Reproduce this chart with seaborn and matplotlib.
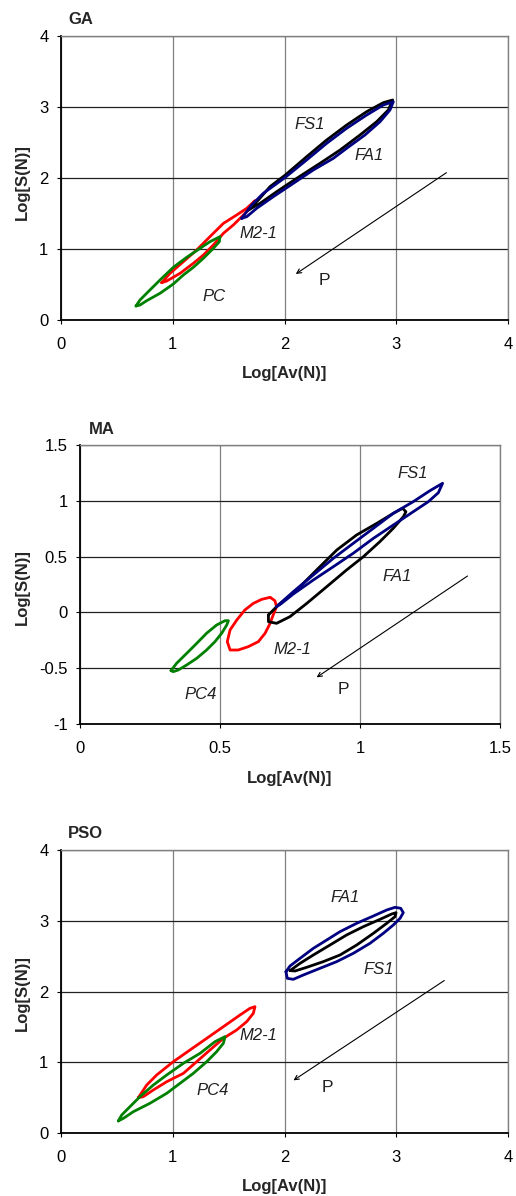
import matplotlib
matplotlib.use("Agg")
import matplotlib.pyplot as plt
import seaborn as sns
import pandas as pd

# ---------------- GA ----------------
ga_black_x = [1.676, 1.766, 1.870, 2.007, 2.198, 2.377, 2.556, 2.735, 2.884, 2.968,
              2.929, 2.825, 2.676, 2.497, 2.318, 2.109, 1.930, 1.781]
ga_black_y = [1.549, 1.690, 1.878, 2.042, 2.300, 2.535, 2.746, 2.934, 3.061, 3.099,
              2.958, 2.793, 2.606, 2.394, 2.207, 1.995, 1.807, 1.643]
ga_blue_x = [1.617, 1.706, 1.810, 2.007, 2.198, 2.377, 2.556, 2.735, 2.884, 2.974,
             2.944, 2.855, 2.720, 2.556, 2.437, 2.258, 2.079, 1.900, 1.751, 1.662]
ga_blue_y = [1.432, 1.620, 1.784, 2.009, 2.254, 2.488, 2.700, 2.887, 3.028, 3.075,
             2.958, 2.793, 2.606, 2.418, 2.277, 2.113, 1.925, 1.737, 1.573, 1.455]
ga_red_x = [0.901, 0.975, 1.095, 1.214, 1.333, 1.453, 1.572, 1.662, 1.736,
            1.706, 1.617, 1.542, 1.453, 1.363, 1.274, 1.184, 1.065, 0.946]
ga_red_y = [0.526, 0.657, 0.822, 0.986, 1.174, 1.361, 1.479, 1.573, 1.681,
            1.596, 1.455, 1.338, 1.221, 1.056, 0.915, 0.798, 0.657, 0.549]
ga_green_x = [0.671, 0.707, 0.796, 0.886, 1.005, 1.125, 1.244, 1.333, 1.423,
              1.417, 1.363, 1.274, 1.184, 1.095, 1.005, 0.886, 0.767, 0.707]
ga_green_y = [0.197, 0.282, 0.423, 0.563, 0.742, 0.883, 1.009, 1.103, 1.174,
              1.103, 1.009, 0.869, 0.742, 0.634, 0.507, 0.376, 0.272, 0.211]

# ---------------- MA ----------------
ma_black_x = [0.673, 0.708, 0.774, 0.845, 0.917, 0.988, 1.060, 1.119, 1.152, 1.164,
              1.155, 1.119, 1.071, 1.012, 0.952, 0.881, 0.810, 0.750, 0.702, 0.673]
ma_black_y = [-0.023, 0.066, 0.201, 0.380, 0.559, 0.694, 0.798, 0.888, 0.933, 0.902,
              0.858, 0.754, 0.634, 0.499, 0.380, 0.230, 0.081, -0.038, -0.098, -0.083]
ma_blue_x = [0.702, 0.762, 0.833, 0.905, 0.976, 1.048, 1.119, 1.190, 1.250, 1.295,
             1.280, 1.244, 1.190, 1.119, 1.048, 0.976, 0.905, 0.833, 0.762, 0.720]
ma_blue_y = [0.051, 0.186, 0.335, 0.485, 0.619, 0.754, 0.888, 0.992, 1.091, 1.157,
             1.073, 0.992, 0.902, 0.783, 0.664, 0.530, 0.410, 0.290, 0.165, 0.081]
ma_red_x = [0.679, 0.696, 0.702, 0.690, 0.679, 0.661, 0.637, 0.601, 0.565, 0.536,
            0.526, 0.536, 0.560, 0.589, 0.619, 0.649]
ma_red_y = [0.135, 0.105, 0.051, -0.023, -0.098, -0.187, -0.262, -0.307, -0.337, -0.337,
            -0.262, -0.157, -0.068, 0.022, 0.081, 0.117]
ma_green_x = [0.325, 0.345, 0.381, 0.417, 0.452, 0.488, 0.518, 0.530,
              0.524, 0.506, 0.482, 0.452, 0.417, 0.381, 0.351, 0.333]
ma_green_y = [-0.522, -0.456, -0.367, -0.277, -0.187, -0.113, -0.074, -0.074,
              -0.113, -0.187, -0.262, -0.337, -0.411, -0.471, -0.516, -0.531]

# ---------------- PSO ----------------
pso_blue_x = [2.013, 2.049, 2.139, 2.258, 2.378, 2.497, 2.646, 2.795, 2.915, 2.989, 3.040, 3.063,
              3.034, 2.974, 2.884, 2.765, 2.616, 2.467, 2.318, 2.168, 2.079, 2.025]
pso_blue_y = [2.280, 2.360, 2.469, 2.610, 2.728, 2.846, 2.964, 3.067, 3.152, 3.190, 3.176, 3.114,
              3.034, 2.940, 2.822, 2.681, 2.540, 2.422, 2.328, 2.233, 2.172, 2.186]
pso_black_x = [2.049, 2.139, 2.258, 2.407, 2.556, 2.705, 2.855, 2.959, 2.998,
               2.989, 2.915, 2.795, 2.646, 2.497, 2.347, 2.199, 2.094]
pso_black_y = [2.295, 2.398, 2.516, 2.657, 2.799, 2.916, 3.020, 3.095, 3.114,
               3.058, 2.964, 2.822, 2.657, 2.516, 2.422, 2.342, 2.290]
pso_red_x = [0.692, 0.767, 0.856, 1.005, 1.154, 1.304, 1.453, 1.602, 1.691, 1.736,
             1.721, 1.662, 1.572, 1.453, 1.333, 1.214, 1.095, 0.946, 0.826, 0.737]
pso_red_y = [0.499, 0.678, 0.820, 1.008, 1.173, 1.338, 1.503, 1.668, 1.762, 1.786,
             1.692, 1.574, 1.456, 1.338, 1.173, 1.008, 0.843, 0.725, 0.608, 0.514]
pso_green_x = [0.513, 0.543, 0.617, 0.707, 0.826, 0.946, 1.095, 1.244, 1.378, 1.468,
               1.453, 1.393, 1.304, 1.184, 1.065, 0.946, 0.796, 0.647, 0.558]
pso_green_y = [0.170, 0.254, 0.372, 0.514, 0.678, 0.820, 0.985, 1.126, 1.291, 1.362,
               1.268, 1.150, 1.008, 0.843, 0.702, 0.561, 0.420, 0.301, 0.207]

# ticks
ga_xticks = [0, 1, 2, 3, 4]
ga_yticks = [0, 1, 2, 3, 4]
ga_xticklabels = ["0", "1", "2", "3", "4"]
ga_yticklabels = ["0", "1", "2", "3", "4"]
ma_xticks = [0, 0.5, 1, 1.5]
ma_yticks = [-1, -0.5, 0, 0.5, 1, 1.5]
ma_xticklabels = ["0", "0.5", "1", "1.5"]
ma_yticklabels = ["-1", "-0.5", "0", "0.5", "1", "1.5"]

# annotation labels
ga_labels = [("FS1", 2.23, 2.75), ("FA1", 2.76, 2.32), ("M2-1", 1.77, 1.22), ("PC", 1.37, 0.33)]
ma_labels = [("FS1", 1.19, 1.246), ("FA1", 1.131, 0.326), ("M2-1", 0.759, -0.331), ("PC4", 0.431, -0.74)]
pso_labels = [("FA1", 2.54, 3.33), ("FS1", 2.84, 2.31), ("M2-1", 1.77, 1.38), ("PC4", 1.36, 0.60)]
ga_arrow = (3.449, 2.075, 2.101, 0.648)
ma_arrow = (1.384, 0.326, 0.845, -0.582)
pso_arrow = (3.43, 2.155, 2.08, 0.744)
ga_p = (2.36, 0.56)
ma_p = (0.942, -0.695)
pso_p = (2.38, 0.645)

sns.set_theme(style="white")
plt.rcParams['font.family'] = ['Liberation Sans', 'DejaVu Sans']

fig = plt.figure(figsize=(5.16, 11.96), dpi=100)

GREEN = "#008000"
RED = "#FF0000"
BLUE = "#000080"
BLACK = "#000000"

panels = [
    dict(title="GA", rect=[61/516, 1-320/1196, 447/516, 284/1196],
         loops=[(ga_red_x, ga_red_y, RED), (ga_green_x, ga_green_y, GREEN),
                (ga_black_x, ga_black_y, BLACK), (ga_blue_x, ga_blue_y, BLUE)],
         xlim=(0, 4), ylim=(0, 4), xt=ga_xticks, yt=ga_yticks,
         xtl=ga_xticklabels, ytl=ga_yticklabels, labels=ga_labels,
         arrow=ga_arrow, p=ga_p, title_px=(68, 20), xlab_py=373, ylab_py=182),
    dict(title="MA", rect=[80/516, 1-724/1196, 420/516, 279/1196],
         loops=[(ma_red_x, ma_red_y, RED), (ma_green_x, ma_green_y, GREEN),
                (ma_black_x, ma_black_y, BLACK), (ma_blue_x, ma_blue_y, BLUE)],
         xlim=(0, 1.5), ylim=(-1, 1.5), xt=ma_xticks, yt=ma_yticks,
         xtl=ma_xticklabels, ytl=ma_yticklabels, labels=ma_labels,
         arrow=ma_arrow, p=ma_p, title_px=(89, 429), xlab_py=778, ylab_py=587),
    dict(title="PSO", rect=[61/516, 1-1133/1196, 447/516, 283/1196],
         loops=[(pso_red_x, pso_red_y, RED), (pso_green_x, pso_green_y, GREEN),
                (pso_black_x, pso_black_y, BLACK), (pso_blue_x, pso_blue_y, BLUE)],
         xlim=(0, 4), ylim=(0, 4), xt=ga_xticks, yt=ga_yticks,
         xtl=ga_xticklabels, ytl=ga_yticklabels, labels=pso_labels,
         arrow=pso_arrow, p=pso_p, title_px=(68, 834), xlab_py=1187, ylab_py=993),
]

W, H = 516, 1196
for pn in panels:
    ax = fig.add_axes(pn["rect"])
    ax.set_facecolor("white")
    for i, (xs, ys, col) in enumerate(pn["loops"]):
        df = pd.DataFrame({"x": list(xs) + [xs[0]], "y": list(ys) + [ys[0]]})
        sns.lineplot(data=df, x="x", y="y", sort=False, estimator=None,
                     color=col, lw=2.0, ax=ax, zorder=3 + i)
    ax.set_xlim(*pn["xlim"])
    ax.set_ylim(*pn["ylim"])
    ax.set_xticks(pn["xt"])
    ax.set_yticks(pn["yt"])
    ax.set_xticklabels(pn["xtl"], fontsize=12)
    ax.set_yticklabels(pn["ytl"], fontsize=12)
    ax.set_xlabel("")
    ax.set_ylabel("")
    ax.xaxis.grid(True, color="#808080", lw=0.9)
    ax.yaxis.grid(True, color="#202020", lw=0.9)
    ax.set_axisbelow(True)
    ax.tick_params(axis="both", which="both", direction="out", length=3, width=0.8,
                   color="black", bottom=True, left=True, colors="black")
    ax.tick_params(axis="x", pad=9)
    ax.tick_params(axis="y", pad=6)
    for s in ["left", "bottom"]:
        ax.spines[s].set_color("black")
        ax.spines[s].set_linewidth(1.3)
    for s in ["top", "right"]:
        ax.spines[s].set_color("#808080")
        ax.spines[s].set_linewidth(1.0)
    for txt, lx, ly in pn["labels"]:
        ax.text(lx, ly, txt, fontsize=12, style="italic", ha="center", va="center",
                color="#202020", zorder=10)
    x0, y0, x1, y1 = pn["arrow"]
    ax.annotate("", xy=(x1, y1), xytext=(x0, y0),
                arrowprops=dict(arrowstyle="->", color="black", lw=0.8,
                                shrinkA=0, shrinkB=0, mutation_scale=8), zorder=10)
    ax.text(pn["p"][0], pn["p"][1], "P", fontsize=12.5, ha="center", va="center",
            color="#202020", zorder=10)
    tx, ty = pn["title_px"]
    fig.text(tx / W, 1 - ty / H, pn["title"], fontsize=12, fontweight="bold",
             ha="left", va="center")
    cx = (pn["rect"][0] + pn["rect"][2] / 2)
    fig.text(cx, 1 - pn["xlab_py"] / H, "Log[Av(N)]", fontsize=12, fontweight="bold",
             ha="center", va="center")
    fig.text(22 / W, 1 - pn["ylab_py"] / H, "Log[S(N)]", fontsize=12, fontweight="bold",
             ha="center", va="center", rotation=90)

fig.savefig("out.png", dpi=100, facecolor="white")
